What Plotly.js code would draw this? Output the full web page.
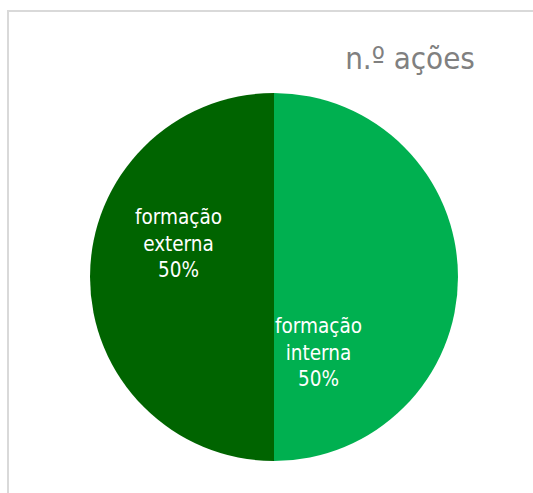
<!DOCTYPE html>
<html>
<head>
<meta charset="utf-8">
<script src="https://cdn.plot.ly/plotly-3.0.1.min.js"></script>
<style>
html,body{margin:0;padding:0;background:#fff;overflow:hidden;}
#wrap{position:relative;width:533px;height:493px;overflow:hidden;}
#chart{width:533px;height:493px;}
#frame{position:absolute;left:7px;top:10px;width:600px;height:600px;border-top:2.5px solid #D9D9D9;border-left:2.5px solid #D9D9D9;pointer-events:none;}
</style>
</head>
<body>
<div id="wrap">
<div id="chart"></div>
<div id="frame"></div>
</div>
<script>
const categories = ['formação interna', 'formação externa'];
const values = [50, 50];
const sliceColors = ['#00B050', '#006400'];
const chartTitle = 'n.º ações';

const W = 533, H = 493;
const FONT = 'DejaVu Sans Condensed, Tahoma, DejaVu Sans, sans-serif';
const total = values.reduce((a, b) => a + b, 0);
const labelText = categories.map((c, i) =>
  c.replace(' ', '<br>') + '<br>' + Math.round(100 * values[i] / total) + '%');

// label centres (pixels) in the Excel-style layout: interna, externa
const labelPos = [[318, 352], [178, 243]];

const trace = {
  type: 'pie',
  labels: categories,
  values: values,
  textinfo: 'none',
  sort: false,
  direction: 'clockwise',
  rotation: 0,
  marker: { colors: sliceColors, line: { width: 0 } },
  hoverinfo: 'label+percent',
  domain: { x: [90 / W, 458 / W], y: [1 - 461 / H, 1 - 93 / H] },
  showlegend: false
};

const annotations = labelText.map((t, i) => ({
  text: t, showarrow: false,
  xref: 'paper', yref: 'paper',
  x: labelPos[i][0] / W, y: 1 - labelPos[i][1] / H,
  xanchor: 'center', yanchor: 'middle', align: 'center',
  font: { family: FONT, size: 20.5, color: '#ffffff' }
}));

const layout = {
  width: W, height: H,
  margin: { l: 0, r: 0, t: 0, b: 0 },
  paper_bgcolor: 'rgba(0,0,0,0)',
  plot_bgcolor: 'rgba(0,0,0,0)',
  showlegend: false,
  title: {
    text: chartTitle,
    font: { family: FONT, size: 31, color: '#808080' },
    x: 410 / W, xanchor: 'center', xref: 'paper',
    y: 1 - 58 / H, yanchor: 'middle', yref: 'container'
  },
  annotations: annotations
};

Plotly.newPlot('chart', [trace], layout, { staticPlot: true, displayModeBar: false });
</script>
</body>
</html>
